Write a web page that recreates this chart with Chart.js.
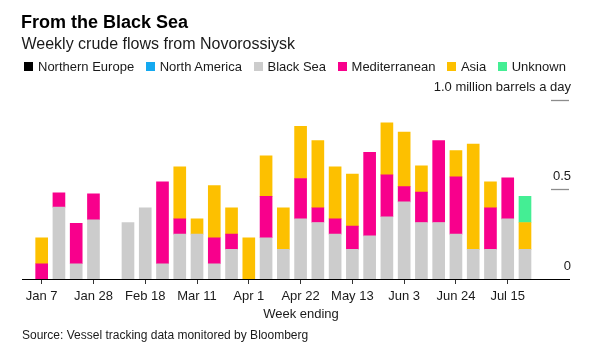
<!DOCTYPE html>
<html>
<head>
<meta charset="utf-8">
<script src="https://cdn.jsdelivr.net/npm/chart.js@4"></script>
<style>
  html, body { margin: 0; padding: 0; background: #fff; }
  body { width: 592px; height: 357px; position: relative; overflow: hidden;
         font-family: "Liberation Sans", Arial, Helvetica, sans-serif; color: #000; }
  canvas { position: absolute; left: 0; top: 0; }
  .t { position: absolute; white-space: nowrap; line-height: 1; }
  #title { left: 21px; top: 12.5px; font-size: 18px; font-weight: bold; color: #000; }
  #subtitle { left: 21.5px; top: 35.8px; font-size: 16px; color: #1a1a1a; }
  #legend { position: absolute; left: 24px; top: 60px; display: flex; font-size: 13px; line-height: 13px; color: #1a1a1a; }
  .li { display: flex; align-items: center; margin-right: 11.5px; }
  .sw { width: 9px; height: 9px; margin-right: 5px; }
  #xtitle { left: 301px; top: 306.7px; font-size: 13px; transform: translateX(-50%); color: #1a1a1a; }
  #source { left: 22px; top: 328.8px; font-size: 12px; color: #1a1a1a; }
</style>
</head>
<body>
<canvas id="c" width="592" height="357"></canvas>
<div class="t" id="title">From the Black Sea</div>
<div class="t" id="subtitle">Weekly crude flows from Novorossiysk</div>
<div id="legend"></div>
<div class="t" id="xtitle">Week ending</div>
<div class="t" id="source">Source: Vessel tracking data monitored by Bloomberg</div>
<script>
// ---- data ----
const weeks = ['Jan 7','Jan 14','Jan 21','Jan 28','Feb 4','Feb 11','Feb 18','Feb 25','Mar 4','Mar 11','Mar 18','Mar 25','Apr 1','Apr 8','Apr 15','Apr 22','Apr 29','May 6','May 13','May 20','May 27','Jun 3','Jun 10','Jun 17','Jun 24','Jul 1','Jul 8','Jul 15','Jul 22'];
const seriesNames = ['Northern Europe','North America','Black Sea','Mediterranean','Asia','Unknown'];
const northernEurope = [0,0,0,0,0,0,0,0,0,0,0,0,0,0,0,0,0,0,0,0,0,0,0,0,0,0,0,0,0];
const northAmerica   = [0,0,0,0,0,0,0,0,0,0,0,0,0,0,0,0,0,0,0,0,0,0,0,0,0,0,0,0,0];
const blackSea = [0,0.40,0.085,0.33,0,0.315,0.397,0.085,0.25,0.25,0.085,0.165,0,0.23,0.165,0.335,0.315,0.25,0.165,0.24,0.347,0.43,0.315,0.315,0.25,0.165,0.165,0.335,0.165];
const mediterranean = [0.085,0.08,0.225,0.145,0,0,0,0.456,0.085,0,0.145,0.085,0,0.23,0,0.225,0.082,0.085,0.13,0.466,0.233,0.085,0.169,0.456,0.319,0,0.232,0.229,0];
const asia = [0.145,0,0,0,0,0,0,0,0.29,0.085,0.29,0.147,0.23,0.226,0.232,0.29,0.374,0.29,0.29,0,0.29,0.303,0.146,0,0.147,0.586,0.144,0,0.15];
const unknown = [0,0,0,0,0,0,0,0,0,0,0,0,0,0,0,0,0,0,0,0,0,0,0,0,0,0,0,0,0.145];
const xTickLabels = ['Jan 7','Jan 28','Feb 18','Mar 11','Apr 1','Apr 22','May 13','Jun 3','Jun 24','Jul 15'];
const yTickValues = [0, 0.5, 1.0];
const yTickLabels = ['0', '0.5', '1.0 million barrels a day'];

// ---- styles ----
const colors = ['#000000', '#14a9f0', '#cccccc', '#f8008c', '#fdc000', '#44ee94'];
const seriesValues = [northernEurope, northAmerica, blackSea, mediterranean, asia, unknown];

// legend
const lg = document.getElementById('legend');
seriesNames.forEach((n, i) => {
  const d = document.createElement('div'); d.className = 'li';
  const s = document.createElement('span'); s.className = 'sw'; s.style.background = colors[i];
  const t = document.createElement('span'); t.textContent = n;
  d.appendChild(s); d.appendChild(t); lg.appendChild(d);
});

const tickIdx = xTickLabels.map(l => weeks.indexOf(l));
const FONT = '"Liberation Sans", Arial, Helvetica, sans-serif';

const yLabelsPlugin = {
  id: 'yLabels',
  afterDraw(chart) {
    const ctx = chart.ctx, y = chart.scales.y;
    ctx.save();
    ctx.font = '13px ' + FONT;
    ctx.fillStyle = '#1a1a1a';
    ctx.textAlign = 'right';
    ctx.textBaseline = 'alphabetic';
    yTickValues.forEach((v, i) => {
      const py = y.getPixelForValue(v);
      if (v !== 0) {
        ctx.strokeStyle = '#8c8c8c';
        ctx.lineWidth = 1.3;
        ctx.beginPath(); ctx.moveTo(551, Math.round(py) + 0.5); ctx.lineTo(569, Math.round(py) + 0.5); ctx.stroke();
      }
      ctx.fillText(yTickLabels[i], 571, py - 9);
    });
    ctx.restore();
  }
};

new Chart(document.getElementById('c'), {
  type: 'bar',
  data: {
    datasets: seriesNames.map((n, i) => ({
      label: n,
      data: seriesValues[i].map((v, k) => ({ x: k, y: v === 0 ? null : v })),
      backgroundColor: colors[i],
      borderWidth: 0,
      barThickness: 12
    }))
  },
  options: {
    responsive: false,
    animation: false,
    devicePixelRatio: 1,
    layout: { padding: { top: 99.5, left: 22, right: 23, bottom: 38 } },
    plugins: { legend: { display: false }, tooltip: { enabled: false }, title: { display: false } },
    scales: {
      x: {
        type: 'linear',
        stacked: true,
        offset: false,
        min: -1.14,
        max: 30.55,
        afterBuildTicks(scale) { scale.ticks = tickIdx.map(v => ({ value: v })); },
        afterFit(scale) { scale.height = 40; },
        ticks: {
          autoSkip: false, maxRotation: 0, padding: 5,
          color: '#1a1a1a',
          font: { family: FONT, size: 13 },
          callback(v) { const i = tickIdx.indexOf(v); return i >= 0 ? xTickLabels[i] : ''; }
        },
        grid: { display: true, offset: false, drawOnChartArea: false, drawTicks: true, tickLength: 5, tickColor: '#333333', tickWidth: 1 },
        border: { display: true, color: '#000000', width: 1 }
      },
      y: {
        stacked: true,
        min: 0,
        max: 1.0,
        display: false
      }
    }
  },
  plugins: [yLabelsPlugin]
});
</script>
</body>
</html>
